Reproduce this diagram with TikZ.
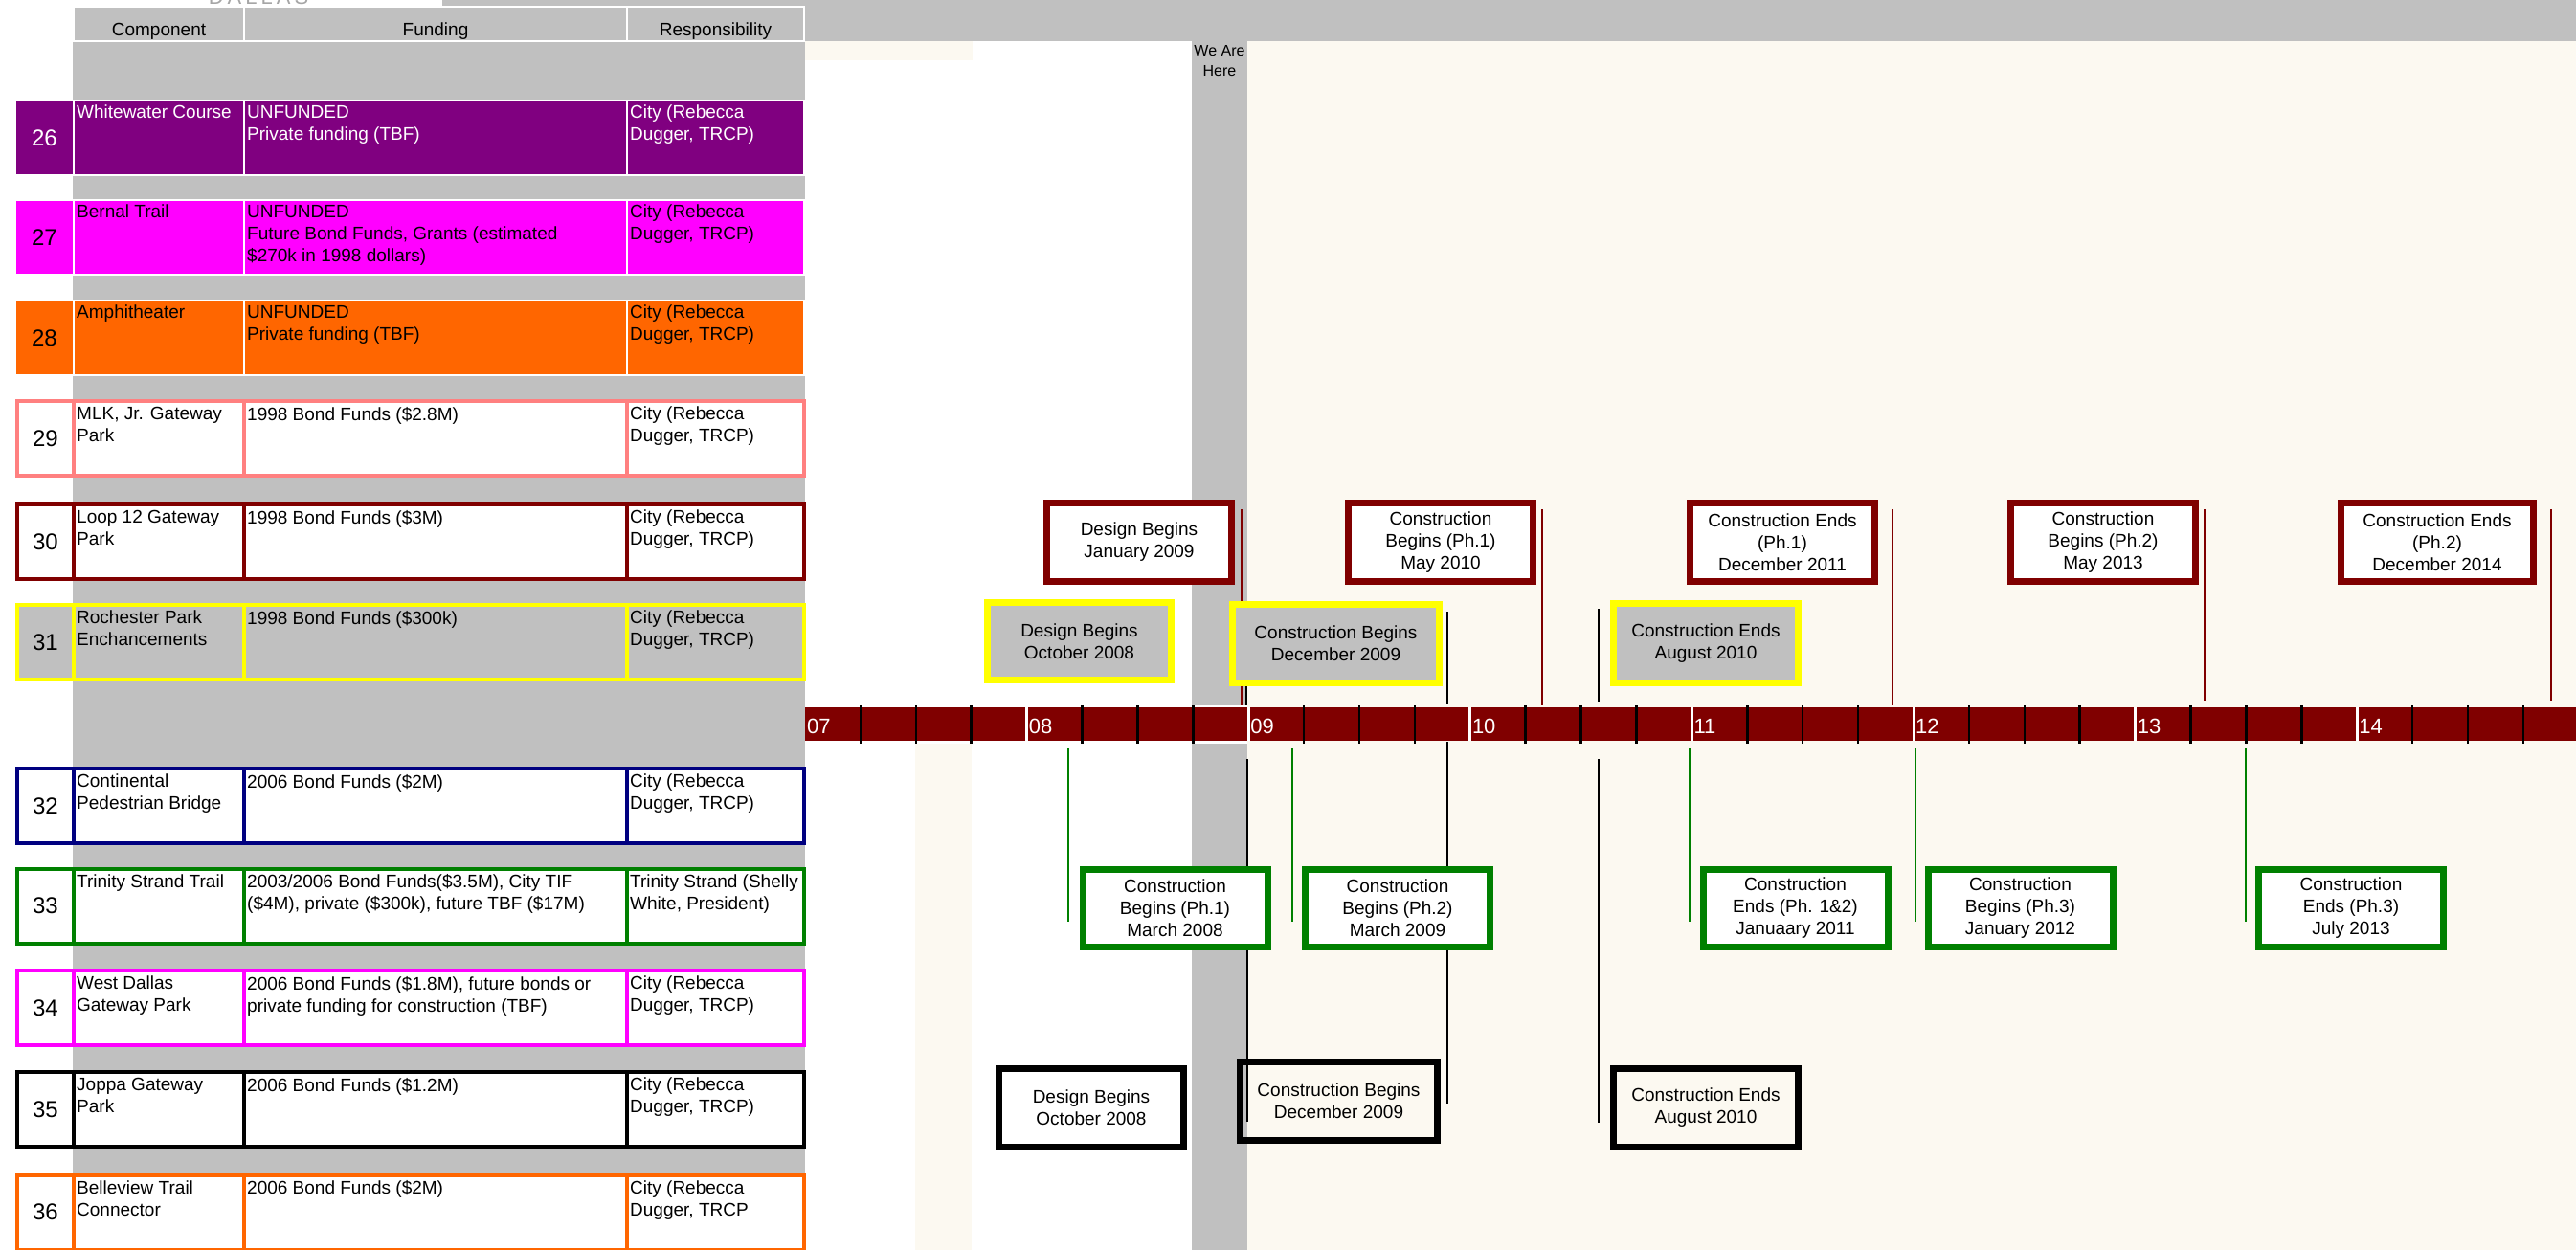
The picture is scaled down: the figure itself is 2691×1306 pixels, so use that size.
\documentclass[tikz,border=0pt]{standalone}
\usepackage{fontspec}
\setmainfont{Liberation Sans}

\definecolor{tgrey}{HTML}{C0C0C0}
\definecolor{tpurple}{HTML}{800080}
\definecolor{tmagenta}{HTML}{FF00FF}
\definecolor{torange}{HTML}{FF6600}
\definecolor{tsalmon}{HTML}{FF8080}
\definecolor{tmaroon}{HTML}{800000}
\definecolor{tyellow}{HTML}{FFFF00}
\definecolor{tnavy}{HTML}{000080}
\definecolor{tgreen}{HTML}{008000}
\definecolor{tcream}{HTML}{FCF9F1}
\definecolor{tdallas}{HTML}{A6A6A6}

\begin{document}
\begin{tikzpicture}[x=1pt, y=-1pt,
  cell/.style={rectangle, anchor=north west, outer sep=0pt, inner sep=0pt, minimum height=78pt},
  filled/.style={cell, draw=white, line width=2pt, fill=#1},
  framed/.style={cell, draw=#1, line width=4pt, fill=white},
  numw/.style={minimum width=59pt, font=\fontsize{24}{24}\selectfont},
  compw/.style={minimum width=178pt},
  fundw/.style={minimum width=400pt},
  respw/.style={minimum width=185pt},
  celltext/.style={anchor=north west, inner xsep=3pt, inner ysep=0pt, align=left, font=\fontsize{19}{23}\selectfont},
  headtext/.style={anchor=base, inner sep=0pt, font=\fontsize{19}{23}\selectfont},
  event/.style={rectangle, line width=7pt, align=center, inner sep=0pt, minimum width=193pt, minimum height=82pt, font=\fontsize{19}{23}\selectfont},
  redevent/.style={event, draw=tmaroon, fill=white},
  yellowevent/.style={event, draw=tyellow, fill=tgrey},
  greenevent/.style={event, draw=tgreen, fill=white},
  blackevent/.style={event, draw=black},
  yearlabel/.style={anchor=west, inner sep=0pt, text=white, font=\fontsize{22}{22}\selectfont}]

\useasboundingbox (0,0) rectangle (2691,1306);

% backgrounds
\fill[tgrey] (462,0) rectangle (2691,43);
\fill[tgrey] (76,43) rectangle (841,1306);
\fill[tcream] (841,43) rectangle (1016,63);
\fill[tcream] (956,777) rectangle (1015,1306);
\fill[tgrey] (1245,43) rectangle (1303,737);
\fill[tgrey] (1245,777) rectangle (1303,1306);
\fill[tcream] (1303,43) rectangle (2691,1306);
\node[anchor=base, inner sep=0pt, text=tdallas, font=\fontsize{22}{22}\selectfont] (dallas) at (270,5) {D\kern4pt A\kern4pt L\kern4pt L\kern4pt A\kern4pt S};
\node[anchor=north, inner sep=0pt, align=center, font=\fontsize{16}{21}\selectfont] (here) at (1274,47) {We Are\\Here};

% table header
\node[filled=tgrey, minimum height=36pt, compw] (hcomp) at (77,7) {};
\node[filled=tgrey, minimum height=36pt, fundw] (hfund) at (255,7) {};
\node[filled=tgrey, minimum height=36pt, respw] (hresp) at (655,7) {};
\node[headtext] (tcomp) at ([yshift=5pt]hcomp.south) {Component};
\node[headtext] (tfund) at ([yshift=5pt]hfund.south) {Funding};
\node[headtext] (tresp) at ([yshift=5pt]hresp.south) {Responsibility};

% 26
\node[filled=tpurple, numw, minimum width=61pt, text=white] (n26) at (16,105) {26};
\node[filled=tpurple, compw] (c26) at (77,105) {};
\node[filled=tpurple, fundw] (f26) at (255,105) {};
\node[filled=tpurple, respw] (r26) at (655,105) {};
\node[celltext, text=white] (tc26) at ([yshift=-5pt]c26.north west) {Whitewater Course};
\node[celltext, text=white] (tf26) at ([yshift=-5pt]f26.north west) {UNFUNDED\\Private funding (TBF)};
\node[celltext, text=white] (tr26) at ([yshift=-5pt]r26.north west) {City (Rebecca\\Dugger, TRCP)};
% 27
\node[filled=tmagenta, numw, minimum width=61pt] (n27) at (16,209) {27};
\node[filled=tmagenta, compw] (c27) at (77,209) {};
\node[filled=tmagenta, fundw] (f27) at (255,209) {};
\node[filled=tmagenta, respw] (r27) at (655,209) {};
\node[celltext] (tc27) at ([yshift=-5pt]c27.north west) {Bernal Trail};
\node[celltext] (tf27) at ([yshift=-5pt]f27.north west) {UNFUNDED\\Future Bond Funds, Grants (estimated\\\$270k in 1998 dollars)};
\node[celltext] (tr27) at ([yshift=-5pt]r27.north west) {City (Rebecca\\Dugger, TRCP)};
% 28
\node[filled=torange, numw, minimum width=61pt] (n28) at (16,314) {28};
\node[filled=torange, compw] (c28) at (77,314) {};
\node[filled=torange, fundw] (f28) at (255,314) {};
\node[filled=torange, respw] (r28) at (655,314) {};
\node[celltext] (tc28) at ([yshift=-5pt]c28.north west) {Amphitheater};
\node[celltext] (tf28) at ([yshift=-5pt]f28.north west) {UNFUNDED\\Private funding (TBF)};
\node[celltext] (tr28) at ([yshift=-5pt]r28.north west) {City (Rebecca\\Dugger, TRCP)};
% 29
\node[framed=tsalmon, numw] (n29) at (18,419) {29};
\node[framed=tsalmon, compw] (c29) at (77,419) {};
\node[framed=tsalmon, fundw] (f29) at (255,419) {};
\node[framed=tsalmon, respw] (r29) at (655,419) {};
\node[celltext] (tc29) at ([yshift=-6pt]c29.north west) {MLK, Jr. Gateway\\Park};
\node[celltext] (tf29) at ([yshift=-6pt]f29.north west) {1998 Bond Funds (\$2.8M)};
\node[celltext] (tr29) at ([yshift=-6pt]r29.north west) {City (Rebecca\\Dugger, TRCP)};
% 30
\node[framed=tmaroon, numw] (n30) at (18,527) {30};
\node[framed=tmaroon, compw] (c30) at (77,527) {};
\node[framed=tmaroon, fundw] (f30) at (255,527) {};
\node[framed=tmaroon, respw] (r30) at (655,527) {};
\node[celltext] (tc30) at ([yshift=-6pt]c30.north west) {Loop 12 Gateway\\Park};
\node[celltext] (tf30) at ([yshift=-6pt]f30.north west) {1998 Bond Funds (\$3M)};
\node[celltext] (tr30) at ([yshift=-6pt]r30.north west) {City (Rebecca\\Dugger, TRCP)};
% 31
\node[framed=tyellow, fill=tgrey, numw] (n31) at (18,632) {31};
\node[framed=tyellow, fill=tgrey, compw] (c31) at (77,632) {};
\node[framed=tyellow, fill=tgrey, fundw] (f31) at (255,632) {};
\node[framed=tyellow, fill=tgrey, respw] (r31) at (655,632) {};
\node[celltext] (tc31) at ([yshift=-6pt]c31.north west) {Rochester Park\\Enchancements};
\node[celltext] (tf31) at ([yshift=-6pt]f31.north west) {1998 Bond Funds (\$300k)};
\node[celltext] (tr31) at ([yshift=-6pt]r31.north west) {City (Rebecca\\Dugger, TRCP)};
% 32
\node[framed=tnavy, numw] (n32) at (18,803) {32};
\node[framed=tnavy, compw] (c32) at (77,803) {};
\node[framed=tnavy, fundw] (f32) at (255,803) {};
\node[framed=tnavy, respw] (r32) at (655,803) {};
\node[celltext] (tc32) at ([yshift=-6pt]c32.north west) {Continental\\Pedestrian Bridge};
\node[celltext] (tf32) at ([yshift=-6pt]f32.north west) {2006 Bond Funds (\$2M)};
\node[celltext] (tr32) at ([yshift=-6pt]r32.north west) {City (Rebecca\\Dugger, TRCP)};
% 33
\node[framed=tgreen, numw] (n33) at (18,907.5) {33};
\node[framed=tgreen, compw] (c33) at (77,907.5) {};
\node[framed=tgreen, fundw] (f33) at (255,907.5) {};
\node[framed=tgreen, respw] (r33) at (655,907.5) {};
\node[celltext] (tc33) at ([yshift=-6pt]c33.north west) {Trinity Strand Trail};
\node[celltext] (tf33) at ([yshift=-6pt]f33.north west) {2003/2006 Bond Funds(\$3.5M), City TIF\\(\$4M), private (\$300k), future TBF (\$17M)};
\node[celltext] (tr33) at ([yshift=-6pt]r33.north west) {Trinity Strand (Shelly\\White, President)};
% 34
\node[framed=tmagenta, numw] (n34) at (18,1014) {34};
\node[framed=tmagenta, compw] (c34) at (77,1014) {};
\node[framed=tmagenta, fundw] (f34) at (255,1014) {};
\node[framed=tmagenta, respw] (r34) at (655,1014) {};
\node[celltext] (tc34) at ([yshift=-6pt]c34.north west) {West Dallas\\Gateway Park};
\node[celltext] (tf34) at ([yshift=-6pt]f34.north west) {2006 Bond Funds (\$1.8M), future bonds or\\private funding for construction (TBF)};
\node[celltext] (tr34) at ([yshift=-6pt]r34.north west) {City (Rebecca\\Dugger, TRCP)};
% 35
\node[framed=black, numw] (n35) at (18,1120) {35};
\node[framed=black, compw] (c35) at (77,1120) {};
\node[framed=black, fundw] (f35) at (255,1120) {};
\node[framed=black, respw] (r35) at (655,1120) {};
\node[celltext] (tc35) at ([yshift=-6pt]c35.north west) {Joppa Gateway\\Park};
\node[celltext] (tf35) at ([yshift=-6pt]f35.north west) {2006 Bond Funds (\$1.2M)};
\node[celltext] (tr35) at ([yshift=-6pt]r35.north west) {City (Rebecca\\Dugger, TRCP)};
% 36
\node[framed=torange, numw] (n36) at (18,1227.5) {36};
\node[framed=torange, compw] (c36) at (77,1227.5) {};
\node[framed=torange, fundw] (f36) at (255,1227.5) {};
\node[framed=torange, respw] (r36) at (655,1227.5) {};
\node[celltext] (tc36) at ([yshift=-6pt]c36.north west) {Belleview Trail\\Connector};
\node[celltext] (tf36) at ([yshift=-6pt]f36.north west) {2006 Bond Funds (\$2M)};
\node[celltext] (tr36) at ([yshift=-6pt]r36.north west) {City (Rebecca\\Dugger, TRCP};

% time bar
\fill[tmaroon] (841,739) rectangle (2691,774);
\foreach \k in {1,...,7}
  \draw[white, line width=3pt] ({841+231.6*\k},739) -- ++(0,35);
\foreach \k in {0,...,7}
  \foreach \q in {1,2,3}
    \draw[black, line width=2.5pt] ({841+231.6*\k+57.9*\q},737) -- ++(0,40);
\foreach \k/\yr in {0/07,1/08,2/09,3/10,4/11,5/12,6/13,7/14}
  \node[yearlabel] (yr\yr) at ({843+231.6*\k},759) {\yr};

% date lines
\foreach \x/\e in {1297/737,1611/737,1977/737,2303/732,2665/732}
  \draw[tmaroon, line width=1.5pt] (\x,532) -- (\x,\e);
\draw[black, line width=1.5pt] (1302,711) -- (1302,737);
\draw[black, line width=1.5pt] (1512,639) -- (1512,736);
\draw[black, line width=1.5pt] (1670,636) -- (1670,733);
\foreach \x in {1116,1350,1765,2001,2346}
  \draw[tgreen, line width=1.5pt] (\x,782) -- (\x,963);
\draw[black, line width=2pt] (1303,793) -- (1303,1172);
\draw[black, line width=2pt] (1512,775) -- (1512,1153);
\draw[black, line width=2pt] (1670,793) -- (1670,1173);

% Loop 12
\node[redevent] (e30a) at (1190,566.5) {Design Begins\\January 2009};
\node[redevent] (e30b) at (1505,566.5) {Construction\\Begins (Ph.1)\\May 2010};
\node[redevent] (e30c) at (1862,566.5) {Construction Ends\\(Ph.1)\\December 2011};
\node[redevent] (e30d) at (2197,566.5) {Construction\\Begins (Ph.2)\\May 2013};
\node[redevent, minimum width=201pt] (e30e) at (2546,566.5) {Construction Ends\\(Ph.2)\\December 2014};
% Rochester Park
\node[yellowevent, minimum width=192pt, minimum height=81pt] (e31a) at (1127.5,670) {Design Begins\\October 2008};
\node[yellowevent, minimum width=216pt] (e31b) at (1395.5,672.5) {Construction Begins\\December 2009};
\node[yellowevent, minimum height=83pt] (e31c) at (1782,672) {Construction Ends\\August 2010};
% Trinity Strand
\node[greenevent, minimum height=81pt] (e33a) at (1227.5,949) {Construction\\Begins (Ph.1)\\March 2008};
\node[greenevent, minimum height=81pt] (e33b) at (1460,949) {Construction\\Begins (Ph.2)\\March 2009};
\node[greenevent, minimum height=81pt] (e33c) at (1875.5,949) {Construction\\Ends (Ph. 1\&2)\\Januaary 2011};
\node[greenevent, minimum height=81pt] (e33d) at (2110.5,949) {Construction\\Begins (Ph.3)\\January 2012};
\node[greenevent, minimum height=81pt] (e33e) at (2456,949) {Construction\\Ends (Ph.3)\\July 2013};
% Joppa
\node[blackevent] (e35a) at (1140,1157.5) {Design Begins\\October 2008};
\node[blackevent, minimum width=206pt] (e35b) at (1398.5,1150.5) {Construction Begins\\December 2009};
\node[blackevent] (e35c) at (1782,1157.5) {Construction Ends\\August 2010};
\end{tikzpicture}
\end{document}
